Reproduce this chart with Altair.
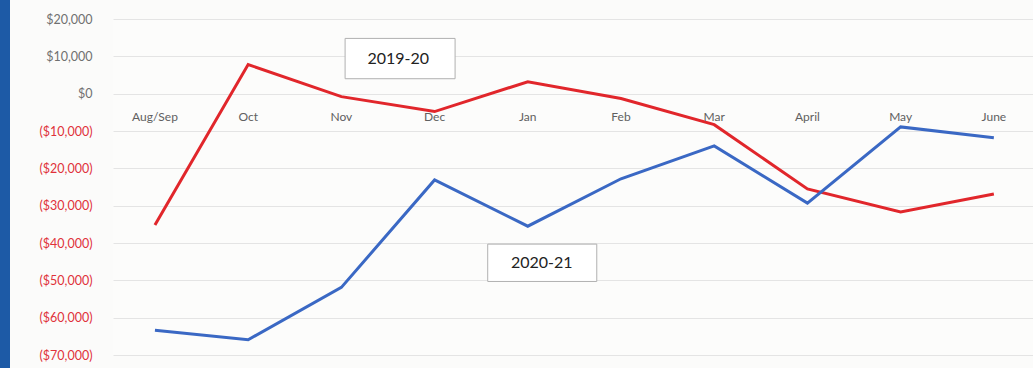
import altair as alt
import pandas as pd

months = ["Aug/Sep", "Oct", "Nov", "Dec", "Jan", "Feb", "Mar", "April", "May", "June"]
fy1920 = [-35200, 7800, -800, -4800, 3200, -1300, -8300, -25500, -31700, -26900]
fy2021 = [-63400, -65900, -51900, -23100, -35500, -22800, -14000, -29300, -8900, -11800]

series_names = ["2019-20", "2020-21"]
series_colors = ["#e1262b", "#3a68c4"]
tick_values = [20000, 10000, 0, -10000, -20000, -30000, -40000, -50000, -60000, -70000]

# annotation boxes (data units: month index, dollars)
ann_label = ["2019-20", "2020-21"]
ann_x = [2.61, 4.15]
ann_y = [9300, -45300]
ann_x1 = [2.04, 3.57]
ann_x2 = [3.22, 4.74]
ann_y1 = [14800, -40300]
ann_y2 = [4000, -50300]

rows = []
for i, m in enumerate(months):
    rows.append({"idx": i, "month": m, "series": series_names[0], "value": fy1920[i]})
    rows.append({"idx": i, "month": m, "series": series_names[1], "value": fy2021[i]})
df = pd.DataFrame(rows)
mdf = pd.DataFrame({"idx": list(range(len(months))), "month": months, "zero": [0] * len(months)})
adf = pd.DataFrame({"label": ann_label, "x": ann_x, "y": ann_y,
                    "x1": ann_x1, "x2": ann_x2, "y1": ann_y1, "y2": ann_y2})

FONT = "Lato"
xscale = alt.Scale(domain=[-0.45, 9.42], nice=False, zero=False)
yscale = alt.Scale(domain=[-70000, 20000], nice=False)

label_expr = ("datum.value < 0 ? '($' + format(-datum.value, ',') + ')' : "
              "'$' + format(datum.value, ',')")


def y_axis():
    return alt.Axis(
        values=tick_values,
        labelExpr=label_expr,
        labelColor={"condition": {"test": "datum.value < 0", "value": "#e0323a"}, "value": "#707070"},
        labelFont=FONT, labelFontSize=12.5, labelPadding=21,
        labelOverlap=False, labelFlush=False, labelBound=False,
        domain=False, ticks=False, title=None,
        grid=True, gridColor="#e4e4e4", gridWidth=1,
    )


lines = alt.Chart(df).mark_line(strokeWidth=3).encode(
    x=alt.X("idx:Q", scale=xscale, axis=None),
    y=alt.Y("value:Q", scale=yscale, axis=y_axis()),
    color=alt.Color("series:N", scale=alt.Scale(domain=series_names, range=series_colors), legend=None),
    order="idx:Q",
)

month_text = alt.Chart(mdf).mark_text(dy=23, font=FONT, fontSize=12, color="#606060").encode(
    x=alt.X("idx:Q", scale=xscale, axis=None),
    y=alt.Y("zero:Q", scale=yscale, axis=y_axis()),
    text="month:N",
)

boxes = alt.Chart(adf).mark_rect(fill="white", stroke="#b0b0b0", strokeWidth=1).encode(
    x=alt.X("x1:Q", scale=xscale, axis=None), x2="x2:Q",
    y=alt.Y("y1:Q", scale=yscale, axis=y_axis()), y2="y2:Q",
)
box_text = alt.Chart(adf).mark_text(font=FONT, fontSize=16, color="#222222").encode(
    x=alt.X("x:Q", scale=xscale, axis=None),
    y=alt.Y("y:Q", scale=yscale, axis=y_axis()),
    text="label:N",
)

strip = alt.Chart(mdf).mark_rect(color="#1d5aa6").encode(
    x=alt.value(-113), x2=alt.value(-103), y=alt.value(-19), y2=alt.value(349),
)

chart = alt.layer(strip, lines, month_text, boxes, box_text).properties(
    width=920, height=336,
    autosize=alt.AutoSizeParams(type="none"),
    padding={"left": 113, "top": 19, "right": 0, "bottom": 13},
    background="#fbfbfa",
).configure_view(stroke=None, fill="#fcfcfb")

chart.save("out.html", embed_options={"renderer": "svg", "actions": False})
